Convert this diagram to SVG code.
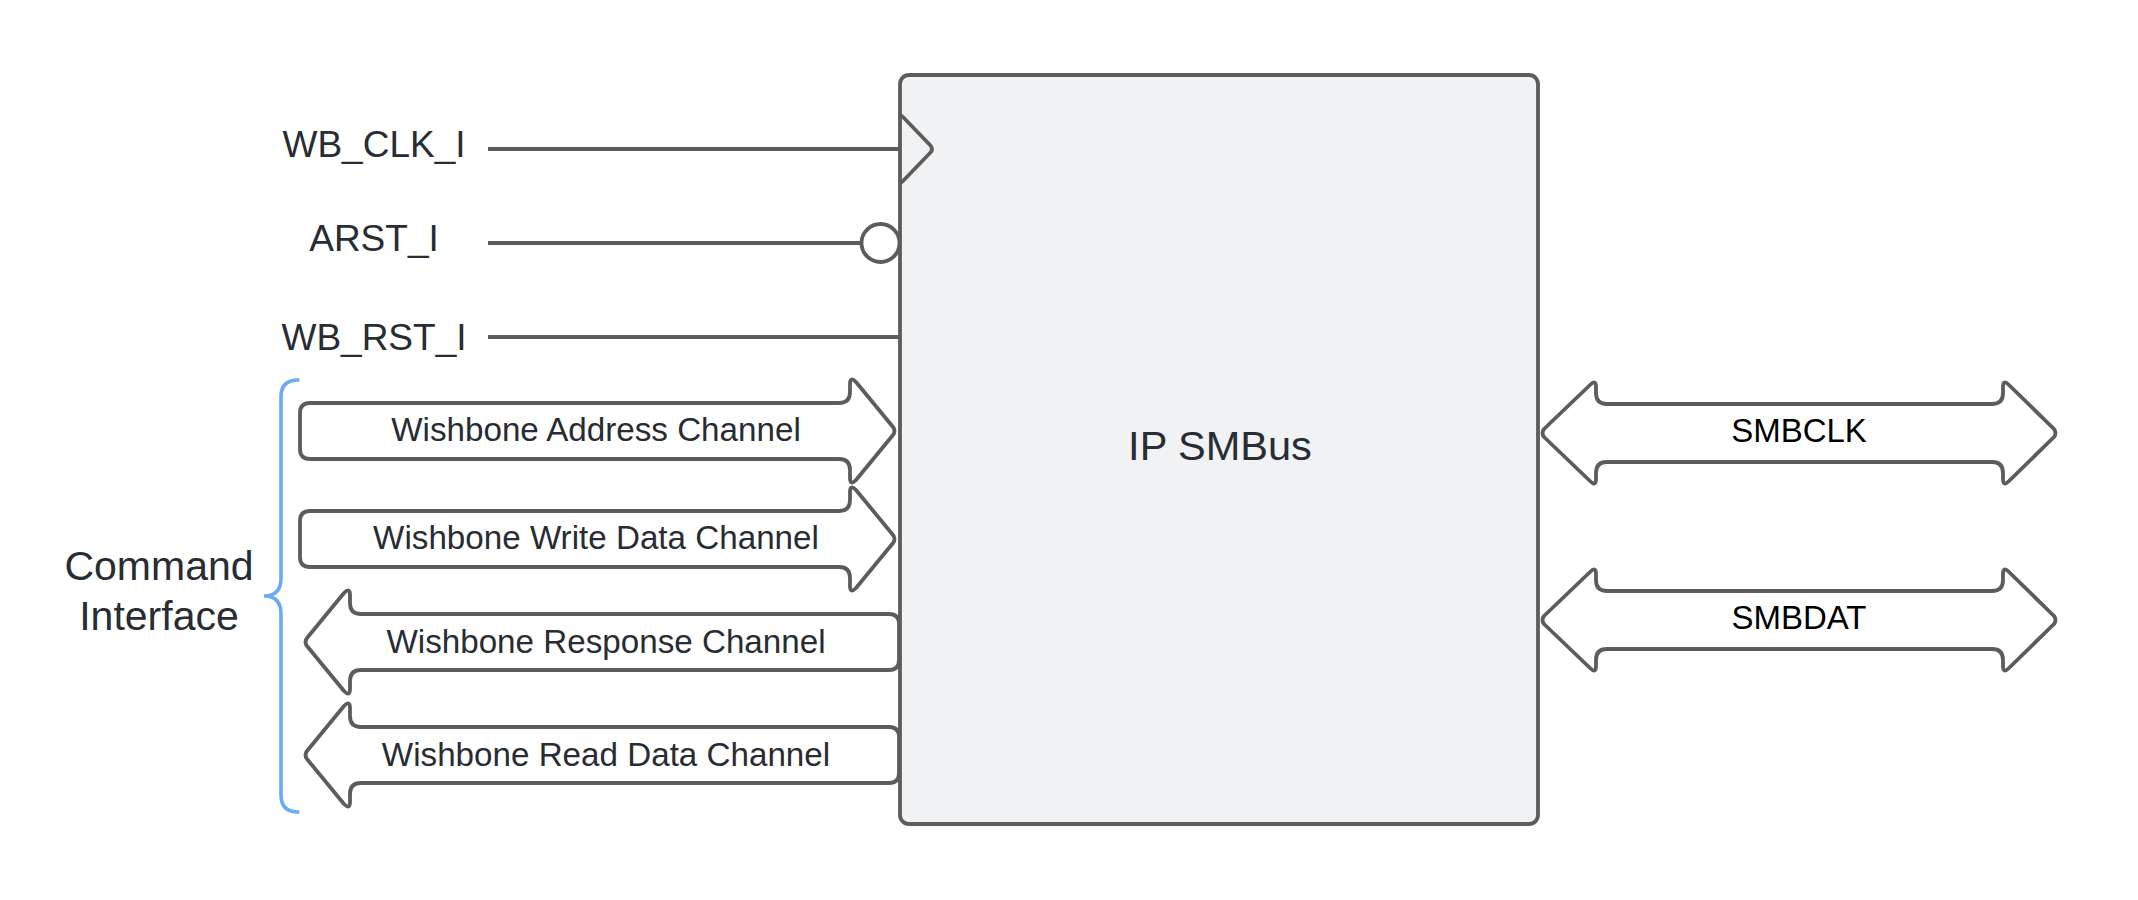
<svg xmlns="http://www.w3.org/2000/svg" width="2138" height="900" viewBox="0 0 2138 900">
  <style>
    .box { fill: #f1f2f4; stroke: #5c5c5c; stroke-width: 3.8; }
    .arr { fill: #ffffff; stroke: #5c5c5c; stroke-width: 3.8; stroke-linejoin: round; }
    .wire { fill: none; stroke: #5c5c5c; stroke-width: 3.8; stroke-linejoin: round; }
    .brace { fill: none; stroke: #6aabf5; stroke-width: 3.6; stroke-linecap: round; }
    .t { font-family: "Liberation Sans", Arial, sans-serif; fill: #282c33; text-anchor: middle; }
    .sig { font-size: 37px; }
    .ch { font-size: 33.2px; }
    .smb { font-size: 33px; fill: #000000; }
  </style>
  <rect width="2138" height="900" fill="#ffffff"/>

  <g id="ip-smbus">
    <rect class="box" x="900" y="75" width="638" height="749" rx="9"/>
    <path class="wire" d="M 900,118 Q 900,114 903,117 L 930,145 Q 934,149 930,153 L 903,181 Q 900,184 900,180"/>
    <text class="t" x="1220" y="460" font-size="41.5">IP SMBus</text>
  </g>

  <g id="connectors">
    <line class="wire" x1="488" y1="149" x2="900" y2="149"/>
    <line class="wire" x1="488" y1="243" x2="861" y2="243"/>
    <circle class="wire" cx="880.5" cy="243" r="19" fill="#ffffff"/>
    <line class="wire" x1="488" y1="337" x2="900" y2="337"/>
  </g>

  <g id="wb-clk-i">
    <text class="t sig" x="374" y="157">WB_CLK_I</text>
  </g>
  <g id="arst-i">
    <text class="t sig" x="374" y="251">ARST_I</text>
  </g>
  <g id="wb-rst-i">
    <text class="t sig" x="374" y="350">WB_RST_I</text>
  </g>

  <g id="command-interface">
    <path class="brace" d="M 298,380 Q 281,380 281,397 V 578 Q 281,596 264,596 Q 281,596 281,614 V 795 Q 281,812 298,812"/>
    <text class="t" x="159" y="580" font-size="41">Command</text>
    <text class="t" x="159" y="630" font-size="41">Interface</text>
  </g>

  <g id="wb-address-channel">
    <path class="arr" d="M 310,403 H 839 Q 850,403 850,392 V 384 Q 850,376 856,382 L 893,427 Q 896,431 893,435 L 856,480 Q 850,486 850,478 V 470 Q 850,459 839,459 H 310 Q 300,459 300,449 V 413 Q 300,403 310,403 Z"/>
    <text class="t ch" x="596" y="441">Wishbone Address Channel</text>
  </g>

  <g id="wb-write-data-channel">
    <path class="arr" d="M 310,511 H 839 Q 850,511 850,500 V 492 Q 850,484 856,490 L 893,535 Q 896,539 893,543 L 856,588 Q 850,594 850,586 V 578 Q 850,567 839,567 H 310 Q 300,567 300,557 V 521 Q 300,511 310,511 Z"/>
    <text class="t ch" x="596" y="549">Wishbone Write Data Channel</text>
  </g>

  <g id="wb-response-channel">
    <path class="arr" d="M 361,614 H 889 Q 899,614 899,624 V 660 Q 899,670 889,670 H 361 Q 350,670 350,681 V 689 Q 350,697 344,691 L 307,646 Q 304,642 307,638 L 344,593 Q 350,587 350,595 V 603 Q 350,614 361,614 Z"/>
    <text class="t ch" x="606" y="653">Wishbone Response Channel</text>
  </g>

  <g id="wb-read-data-channel">
    <path class="arr" d="M 361,727 H 889 Q 899,727 899,737 V 773 Q 899,783 889,783 H 361 Q 350,783 350,794 V 802 Q 350,810 344,804 L 307,759 Q 304,755 307,751 L 344,706 Q 350,700 350,708 V 716 Q 350,727 361,727 Z"/>
    <text class="t ch" x="606" y="766">Wishbone Read Data Channel</text>
  </g>

  <g id="smbclk">
    <path class="arr" d="M 1607,404 H 1992 Q 2003,404 2003,393 V 387 Q 2003,379 2009,385 L 2054,429 Q 2057,433 2054,437 L 2009,481 Q 2003,487 2003,479 V 473 Q 2003,462 1992,462 H 1607 Q 1596,462 1596,473 V 479 Q 1596,487 1590,481 L 1544,437 Q 1541,433 1544,429 L 1590,385 Q 1596,379 1596,387 V 393 Q 1596,404 1607,404 Z"/>
    <text class="t smb" x="1799" y="442">SMBCLK</text>
  </g>

  <g id="smbdat">
    <path class="arr" d="M 1607,591 H 1992 Q 2003,591 2003,580 V 574 Q 2003,566 2009,572 L 2054,616 Q 2057,620 2054,624 L 2009,668 Q 2003,674 2003,666 V 660 Q 2003,649 1992,649 H 1607 Q 1596,649 1596,660 V 666 Q 1596,674 1590,668 L 1544,624 Q 1541,620 1544,616 L 1590,572 Q 1596,566 1596,574 V 580 Q 1596,591 1607,591 Z"/>
    <text class="t smb" x="1799" y="629">SMBDAT</text>
  </g>
</svg>
